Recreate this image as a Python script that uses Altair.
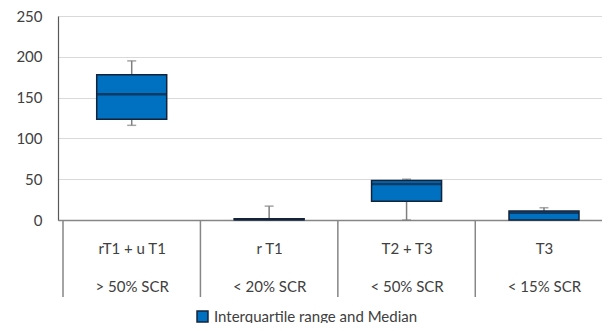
import altair as alt
import pandas as pd

categories = ["rT1 + u T1", "r T1", "T2 + T3", "T3"]
subtitles = ["> 50% SCR", "< 20% SCR", "< 50% SCR", "< 15% SCR"]
whisker_min = [116, 0, 0, 0]
q1 = [123.5, 0.4, 23, 0]
median = [154, 1.0, 44, 9]
q3 = [178, 1.6, 48.5, 11]
whisker_max = [195, 17, 50, 15]
series_name = "Interquartile range and Median"

idx = list(range(len(categories)))
df = pd.DataFrame({
    "idx": idx,
    "edge": [i - 0.5 for i in idx],
    "wmin": whisker_min,
    "q1": q1,
    "med": median,
    "q3": q3,
    "wmax": whisker_max,
    "series": [series_name] * len(categories),
})

label_array = "[" + ", ".join(f"'{c}|{s}'" for c, s in zip(categories, subtitles)) + "]"

FONT = "Lato"
TXT = "#404040"
BLUE = "#0070C0"
DARK = "#14233C"
GREY = "#7F7F7F"

W = 544
H = 204
STEP = 140
xscale = alt.Scale(domain=[-0.5, -0.5 + W / STEP], nice=False, zero=False)
yscale = alt.Scale(domain=[0, 250], nice=False)

x_enc = alt.X(
    "idx:Q", scale=xscale, title=None,
    axis=alt.Axis(
        values=idx, labelExpr=f"split({label_array}[datum.value], '|')",
        labelAngle=0, labelFontSize=15, labelFont=FONT, labelColor=TXT,
        labelLineHeight=38, ticks=False, tickSize=0, labelPadding=21,
        labelFlush=False, labelOverlap=False, labelAlign="center",
        domainColor="#868686", domainWidth=1.5, grid=False,
    ),
)
y_enc = alt.Y(
    "wmin:Q", scale=yscale, title=None,
    axis=alt.Axis(
        values=[0, 50, 100, 150, 200, 250], labelFontSize=15, labelFont=FONT,
        labelColor=TXT, ticks=False, tickSize=0, labelPadding=16,
        gridColor="#D9D9D9", gridWidth=1.2, domainColor="#595959", domainWidth=1.2,
    ),
)

base = alt.Chart(df)

dividers = base.mark_rule(color="#868686", strokeWidth=1.5).encode(
    x=alt.X("edge:Q"),
    y=alt.value(H), y2=alt.value(281),
)

whiskers = base.mark_rule(color=GREY, strokeWidth=1.5).encode(
    x=x_enc, y=y_enc, y2="wmax:Q",
)

caps_top = base.mark_tick(color=GREY, size=9, thickness=1.5, orient="horizontal").encode(
    x="idx:Q", y="wmax:Q",
)
caps_bot = base.mark_tick(color=GREY, size=9, thickness=1.5, orient="horizontal").encode(
    x="idx:Q", y="wmin:Q",
)

boxes = base.mark_bar(size=70, stroke=DARK, strokeWidth=1.5).encode(
    x="idx:Q",
    y="q1:Q", y2="q3:Q",
    color=alt.Color(
        "series:N", scale=alt.Scale(range=[BLUE]), title=None,
        legend=alt.Legend(
            orient="none", legendX=137, legendY=293, symbolType="square",
            symbolSize=120, symbolStrokeColor=DARK, symbolStrokeWidth=1.5,
            symbolFillColor=BLUE, labelFontSize=15, labelFont=FONT, labelColor=TXT,
            padding=0, labelOffset=4, labelLimit=0,
        ),
    ),
)

medians = base.mark_tick(color=DARK, size=70, thickness=2.5, orient="horizontal").encode(
    x="idx:Q", y="med:Q",
)

chart = alt.layer(whiskers, caps_top, caps_bot, boxes, medians, dividers).properties(
    width=W, height=H,
    autosize=alt.AutoSizeParams(type="none"),
    padding={"left": 50, "top": 8, "right": 0, "bottom": 103},
).configure_view(stroke=None).configure(background="white")

chart.save("out.html", embed_options={"renderer": "svg", "actions": False})
